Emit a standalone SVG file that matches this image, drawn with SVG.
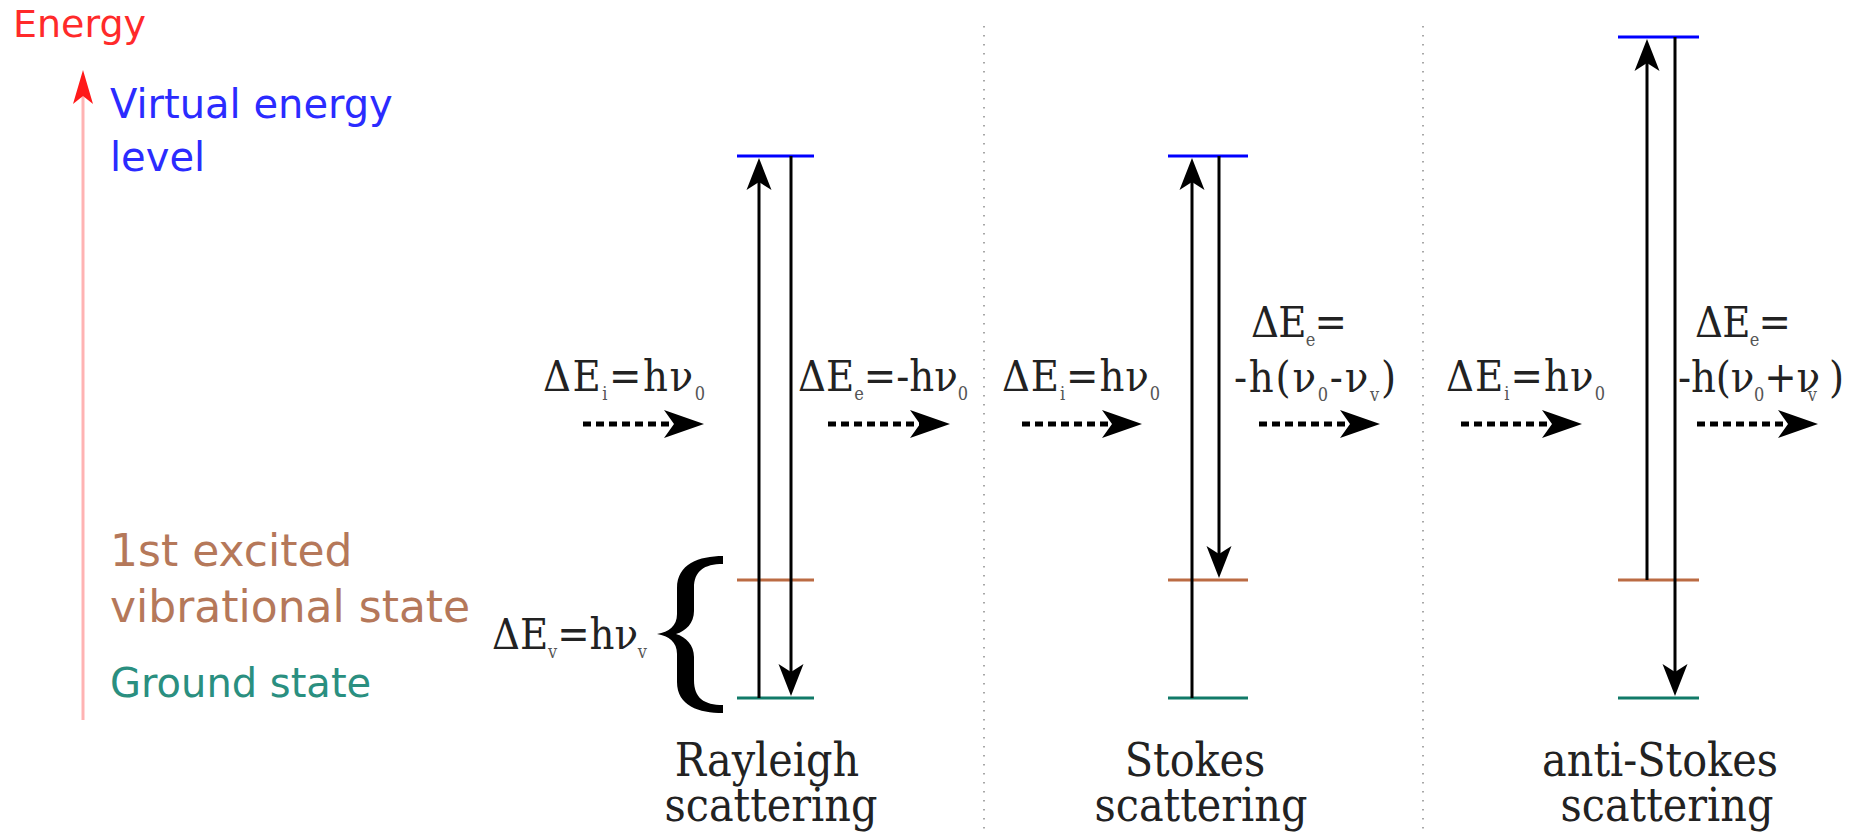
<svg xmlns="http://www.w3.org/2000/svg" width="1872" height="834" viewBox="0 0 1872 834">
<style>
.sans{font-family:"DejaVu Sans","Liberation Sans",sans-serif}
.serif{font-family:"DejaVu Serif Condensed","DejaVu Serif","Liberation Serif",serif;font-stretch:condensed}
.lbl{font-size:43px;fill:#222}
.sub{font-size:18px;fill:#555}
.title{font-size:46px;fill:#222;text-anchor:middle}
.sep{stroke:#8a8a8a;stroke-width:1.5;stroke-dasharray:1.5 7.5;fill:none}
.virt{stroke:#0000ff;stroke-width:3}
.exc{stroke:#bb6b43;stroke-width:3}
.gnd{stroke:#117a68;stroke-width:3}
.tr{stroke:#000;stroke-width:3;fill:none;marker-end:url(#ah)}
.ph{stroke:#000;stroke-width:5;stroke-dasharray:8 5;fill:none;marker-end:url(#ph)}
</style>
<defs>
<marker id="ah" markerUnits="userSpaceOnUse" orient="auto" markerWidth="40" markerHeight="30" refX="8" refY="12.5" overflow="visible">
<path d="M0,0 L32,12.5 L0,25 L8,12.5 Z" fill="#000"/>
</marker>
<marker id="ph" markerUnits="userSpaceOnUse" orient="auto" markerWidth="50" markerHeight="36" refX="10" refY="14" overflow="visible">
<path d="M0,0 L40,14 L0,28 L10,14 Z" fill="#000"/>
</marker>
<marker id="en" markerUnits="userSpaceOnUse" orient="auto" markerWidth="40" markerHeight="30" refX="8" refY="10" overflow="visible">
<path d="M0,0 L34,10 L0,20 L8,10 Z" fill="#ff1a1a"/>
</marker>
</defs>

<g id="separators">
<line class="sep" x1="984" y1="26" x2="984" y2="834"/>
<line class="sep" x1="1423" y1="26" x2="1423" y2="834"/>
</g>

<g id="energy-axis">
<line x1="83" y1="720" x2="83" y2="96" stroke="#ffb3b3" stroke-width="3" marker-end="url(#en)"/>
<text class="sans" x="13" y="37" font-size="38" fill="#ff2a2a">Energy</text>
</g>

<g id="legend">
<text class="sans" x="110" y="118" font-size="40" fill="#2b2bff">Virtual energy</text>
<text class="sans" x="110" y="171" font-size="40" fill="#2b2bff">level</text>
<text class="sans" x="110" y="566" font-size="44" fill="#b5785a">1st excited</text>
<text class="sans" x="110" y="622" font-size="44" fill="#b5785a">vibrational state</text>
<text class="sans" x="110" y="697" font-size="40" fill="#2a8f80">Ground state</text>
</g>

<g id="brace">
<path d="M723,556 C699,556 677,564 677,588 L677,614 C677,626 669,632 657,634 C669,636 677,642 677,654 L677,682 C677,706 699,713 723,713 L723,705 C704,705 694,698 694,680 L694,657 C694,645 686,637 676,634 C686,631 694,623 694,611 L694,588 C694,571 704,564 723,564 Z" fill="#000"/>
<text class="serif lbl" x="492" y="649" textLength="155" lengthAdjust="spacing">ΔE<tspan class="sub" dy="9">v</tspan><tspan dy="-9">=hν</tspan><tspan class="sub" dy="9">v</tspan></text>
</g>

<g id="rayleigh">
<line class="virt" x1="737" y1="156" x2="814" y2="156"/>
<line class="exc" x1="737" y1="580" x2="814" y2="580"/>
<line class="gnd" x1="737" y1="698" x2="814" y2="698"/>
<text class="serif title" x="767" y="776">Rayleigh</text>
<text class="serif title" x="771" y="821">scattering</text>
<text class="serif lbl" x="543" y="391" textLength="162" lengthAdjust="spacing">ΔE<tspan class="sub" dy="9">i</tspan><tspan dy="-9">=hν</tspan><tspan class="sub" dy="9">0</tspan></text>
<text class="serif lbl" x="798" y="391" textLength="170" lengthAdjust="spacing">ΔE<tspan class="sub" dy="9">e</tspan><tspan dy="-9">=-hν</tspan><tspan class="sub" dy="9">0</tspan></text>
</g>

<g id="stokes">
<line class="virt" x1="1168" y1="156" x2="1248" y2="156"/>
<line class="exc" x1="1168" y1="580" x2="1248" y2="580"/>
<line class="gnd" x1="1168" y1="698" x2="1248" y2="698"/>
<text class="serif title" x="1195" y="776">Stokes</text>
<text class="serif title" x="1201" y="821">scattering</text>
<text class="serif lbl" x="1002" y="391" textLength="158" lengthAdjust="spacing">ΔE<tspan class="sub" dy="9">i</tspan><tspan dy="-9">=hν</tspan><tspan class="sub" dy="9">0</tspan></text>
<text class="serif lbl" x="1251" y="337" textLength="96" lengthAdjust="spacing">ΔE<tspan class="sub" dy="9">e</tspan><tspan dy="-9">=</tspan></text>
<text class="serif lbl" x="1234" y="392" textLength="162" lengthAdjust="spacing">-h(ν<tspan class="sub" dy="9">0</tspan><tspan dy="-9">-ν</tspan><tspan class="sub" dy="9">v</tspan><tspan dy="-9">)</tspan></text>
</g>

<g id="anti-stokes">
<line class="virt" x1="1618" y1="37" x2="1699" y2="37"/>
<line class="exc" x1="1618" y1="580" x2="1699" y2="580"/>
<line class="gnd" x1="1618" y1="698" x2="1699" y2="698"/>
<text class="serif title" x="1660" y="776">anti-Stokes</text>
<text class="serif title" x="1667" y="821">scattering</text>
<text class="serif lbl" x="1446" y="391" textLength="159" lengthAdjust="spacing">ΔE<tspan class="sub" dy="9">i</tspan><tspan dy="-9">=hν</tspan><tspan class="sub" dy="9">0</tspan></text>
<text class="serif lbl" x="1695" y="337" textLength="96" lengthAdjust="spacing">ΔE<tspan class="sub" dy="9">e</tspan><tspan dy="-9">=</tspan></text>
<text class="serif lbl" x="1678" y="392" textLength="166" lengthAdjust="spacing">-h(ν<tspan class="sub" dy="9">0</tspan><tspan dy="-9">+ν</tspan><tspan class="sub" dx="-12" dy="9">v</tspan><tspan dy="-9"> )</tspan></text>
</g>

<g id="connectors">
<line class="tr" x1="759" y1="698" x2="759" y2="182"/>
<line class="tr" x1="791" y1="156" x2="791" y2="672"/>
<line class="tr" x1="1192" y1="698" x2="1192" y2="182"/>
<line class="tr" x1="1219" y1="156" x2="1219" y2="554"/>
<line class="tr" x1="1647" y1="580" x2="1647" y2="63"/>
<line class="tr" x1="1675" y1="37" x2="1675" y2="672"/>
<line class="ph" x1="583" y1="424" x2="674" y2="424"/>
<line class="ph" x1="828" y1="424" x2="920" y2="424"/>
<line class="ph" x1="1022" y1="424" x2="1112" y2="424"/>
<line class="ph" x1="1259" y1="424" x2="1350" y2="424"/>
<line class="ph" x1="1461" y1="424" x2="1552" y2="424"/>
<line class="ph" x1="1697" y1="424" x2="1788" y2="424"/>
</g>
</svg>
